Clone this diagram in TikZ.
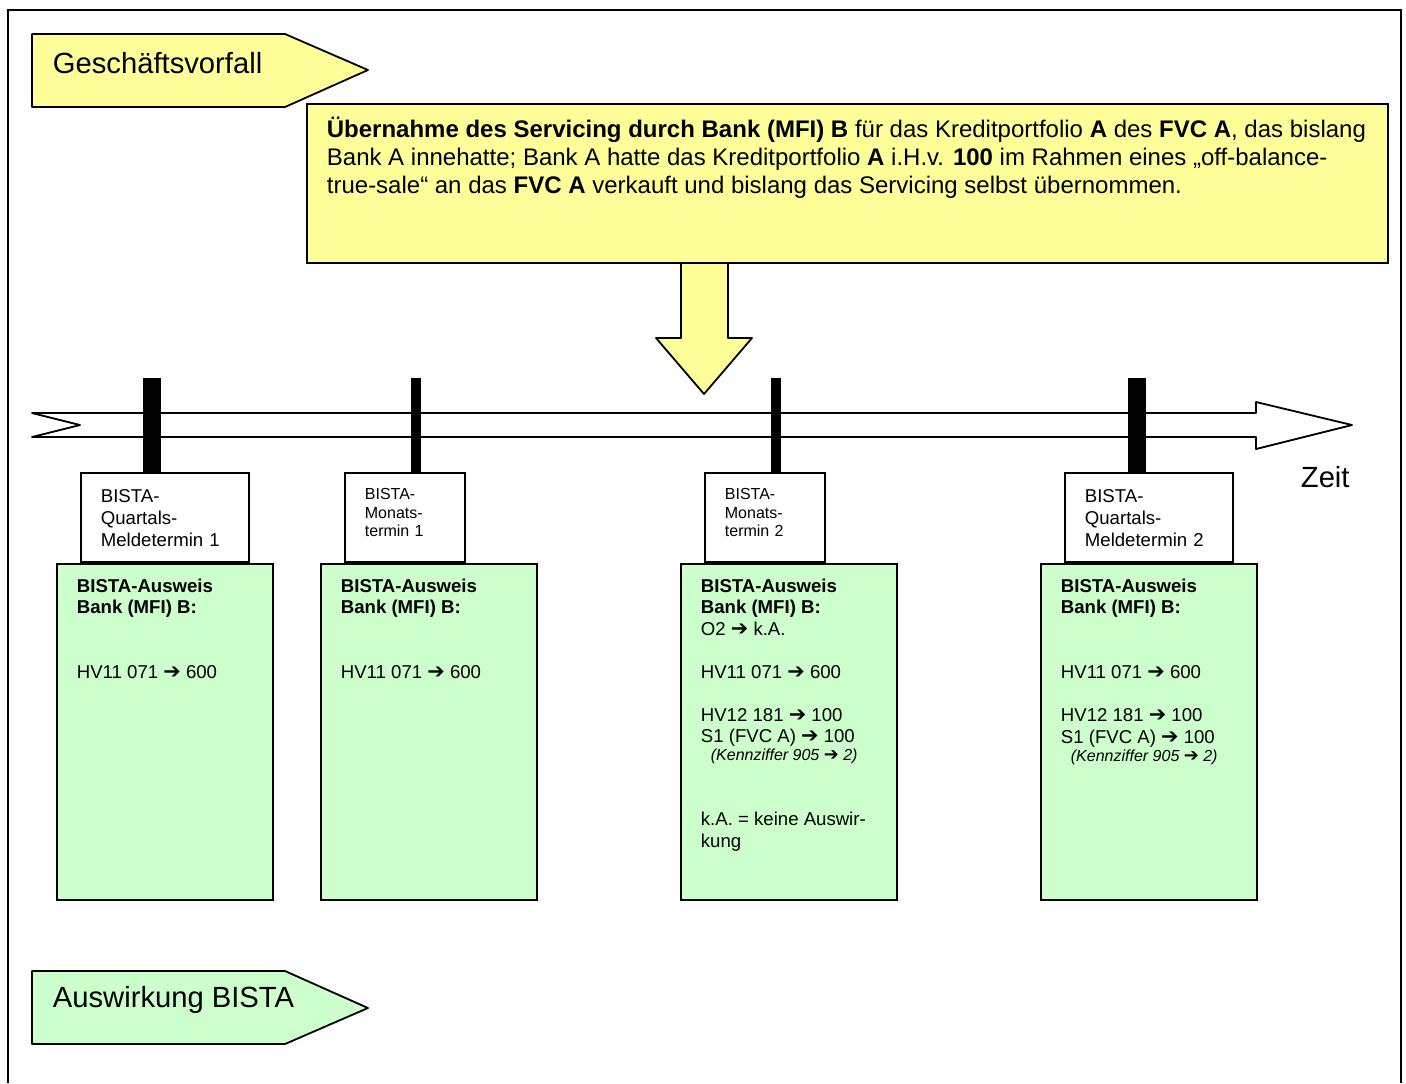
\documentclass[tikz,border=0pt]{standalone}
\usepackage{fontspec}
\setmainfont{Liberation Sans}
\newfontfamily\arrowfont[Scale=1.12]{DejaVu Sans Bold}
\usetikzlibrary{positioning}
\definecolor{gvgelb}{HTML}{FFFF99}
\definecolor{bistagruen}{HTML}{CCFFCC}
\newcommand{\pf}{{\arrowfont ➔}}
\newcommand{\ausw}[1]{\parbox[t][153pt][t]{88pt}{\raggedright #1}}
\tikzset{fahne/.style={draw,fill=#1,line join=round},
	 titel/.style={anchor=base west,inner sep=0pt,font=\fontsize{14.6}{17}\selectfont},
	 gvbox/.style={draw,fill=gvgelb,anchor=north west,inner xsep=10pt,inner ysep=6.5pt,font=\fontsize{12}{14}\selectfont},
	 ausweis/.style={draw,fill=bistagruen,anchor=north west,inner xsep=10pt,inner ysep=7.5pt,font=\fontsize{9.3}{10.75}\selectfont},
	 termin/.style={draw,fill=white,minimum height=44.5pt,inner xsep=10pt,align=left},
	 quartal/.style={termin,text width=64pt,font=\fontsize{9.3}{11}\selectfont},
	 monat/.style={termin,text width=40pt,font=\fontsize{8}{9.25}\selectfont},
	 balken/.style={line width=#1},
	 zeitpfeil/.style={draw,fill=white,line join=round}
	 }

\begin{document}
\begin{tikzpicture}[x=0.5pt,y=-0.5pt,line width=0.9pt]
	\useasboundingbox (0,0) rectangle (1406,1083);
	\draw (8,1083) -- (8,10) -- (1401,10) -- (1401,1083);
	\draw[fahne=gvgelb] (32,34) -- (285,34) -- (368,70) -- (285,107) -- (32,107) -- cycle;
	\node[titel] (gv) at (52,73) {Geschäftsvorfall};
	\draw[fahne=gvgelb] (681,250) -- (681,338) -- (656,338) -- (704,394) -- (752,338) -- (728,338) -- (728,250) -- cycle;
	\node[gvbox] (uebernahme) at (306,103) {\parbox[t][66.5pt][t]{520.5pt}{\raggedright
	\textbf{Übernahme des Servicing durch Bank (MFI) B} für das Kreditportfolio \textbf{A} des \textbf{FVC A}, das bislang\\
	Bank A innehatte; Bank A hatte das Kreditportfolio \textbf{A} i.H.v. \textbf{100} im Rahmen eines „off-balance-\\
	true-sale“ an das \textbf{FVC A} verkauft und bislang das Servicing selbst übernommen.}};
	\draw[zeitpfeil] (32,413) -- (1256,413) -- (1256,402) -- (1352,425) -- (1256,449) -- (1256,437) -- (32,437) -- (80,425) -- cycle;
	\node[titel] (zeit) at (1300,487) {Zeit};
	\node[ausweis] (a1) at (56,563) {\ausw{\textbf{BISTA-Ausweis\\Bank (MFI) B:}\\[21.75pt]
	HV11 071 \pf{} 600}};
	\node[ausweis] (a2) at (320,563) {\ausw{\textbf{BISTA-Ausweis\\Bank (MFI) B:}\\[21.75pt]
	HV11 071 \pf{} 600}};
	\node[ausweis] (a3) at (680,563) {\ausw{\textbf{BISTA-Ausweis\\Bank (MFI) B:}\\
	O2 \pf{} k.A.\\[10.75pt]
	HV11 071 \pf{} 600\\[10.75pt]
	HV12 181 \pf{} 100\\
	S1 (FVC A) \pf{} 100\\[-1.75pt]
	\hspace*{5pt}{\fontsize{8}{9}\selectfont\itshape (Kennziffer 905 \pf{} 2)}\\[21.75pt]
	k.A. = keine Auswir-\\kung}};
	\node[ausweis] (a4) at (1040,563) {\ausw{\textbf{BISTA-Ausweis\\Bank (MFI) B:}\\[21.75pt]
	HV11 071 \pf{} 600\\[10.75pt]
	HV12 181 \pf{} 100\\
	S1 (FVC A) \pf{} 100\\[-1.75pt]
	\hspace*{5pt}{\fontsize{8}{9}\selectfont\itshape (Kennziffer 905 \pf{} 2)}}};
	\node[quartal, above right=0pt and 12pt of a1.north west] (q1) {BISTA-\\Quartals-\\Meldetermin 1};
	\node[monat, above right=0pt and 12pt of a2.north west] (m1) {BISTA-\\Monats-\\termin 1\\[-4.25pt]\mbox{}};
	\node[monat, above right=0pt and 12pt of a3.north west] (m2) {BISTA-\\Monats-\\termin 2\\[-4.25pt]\mbox{}};
	\node[quartal, above right=0pt and 12pt of a4.north west] (q2) {BISTA-\\Quartals-\\Meldetermin 2};
	\coordinate (s1) at (152,378);
	\coordinate (s2) at (416,378);
	\coordinate (s3) at (776,378);
	\coordinate (s4) at (1137,378);
	\draw[balken=9pt] (s1) -- (s1 |- q1.north);
	\draw[balken=5pt] (s2) -- (s2 |- m1.north);
	\draw[balken=5pt] (s3) -- (s3 |- m2.north);
	\draw[balken=9pt] (s4) -- (s4 |- q2.north);
	\draw[fahne=bistagruen] (32,971) -- (285,971) -- (368,1008) -- (285,1044) -- (32,1044) -- cycle;
	\node[titel] (wirkung) at (52,1007) {Auswirkung BISTA};
\end{tikzpicture}
\end{document}
